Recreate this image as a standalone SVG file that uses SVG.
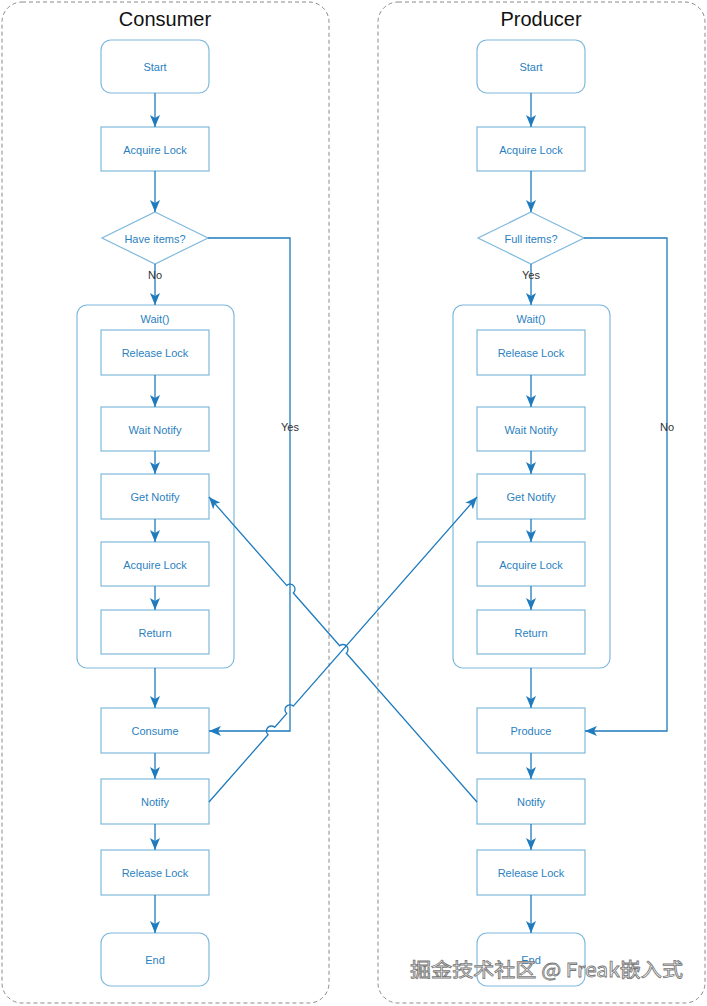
<svg xmlns="http://www.w3.org/2000/svg" width="707" height="1006" viewBox="0 0 707 1006">
<style>
.lane{fill:#fff;stroke:#8a8a8a;stroke-width:1;stroke-dasharray:4 3}
.title{font-family:"Liberation Sans",Arial,sans-serif;font-size:20px;fill:#111;text-anchor:middle}
.box{fill:#fff;stroke:#7fb9dd;stroke-width:1.2}
.grp{fill:none;stroke:#7fb9dd;stroke-width:1.2}
.t{font-family:"Liberation Sans",Arial,sans-serif;font-size:11px;fill:#2b7fc1;text-anchor:middle;dominant-baseline:central}
.lbl{font-family:"Liberation Sans",Arial,sans-serif;font-size:11px;fill:#333;text-anchor:middle;dominant-baseline:central}
.e{fill:none;stroke:#1f7bbd;stroke-width:1.3}
.ea{fill:none;stroke:#1f7bbd;stroke-width:1.3;marker-end:url(#ah)}
.wm{font-family:"Noto Sans CJK SC","Liberation Sans",sans-serif;font-size:19px;fill:#fff;stroke:#777;stroke-width:0.8}
</style>
<defs>
<marker id="ah" markerUnits="userSpaceOnUse" markerWidth="12" markerHeight="10" refX="12" refY="5" orient="auto">
<path d="M0,0 L12,5 L0,10 L3,5 z" fill="#1f7bbd"/>
</marker>
</defs>
<rect width="707" height="1006" fill="#fff"/>
<g id="consumer-lane">
<rect class="lane" x="2" y="2" width="327" height="1001" rx="20"/>
<text class="title" x="165" y="26">Consumer</text>
</g>
<g id="producer-lane">
<rect class="lane" x="378" y="2" width="327" height="1001" rx="20"/>
<text class="title" x="541" y="26">Producer</text>
</g>
<g id="c-wait"><rect class="grp" x="77" y="305" width="157" height="363" rx="10"/><text class="t" x="155" y="319">Wait()</text></g>
<g id="p-wait"><rect class="grp" x="453" y="305" width="157" height="363" rx="10"/><text class="t" x="531" y="319">Wait()</text></g>
<g id="c-start"><rect class="box" x="101" y="40" width="108" height="53" rx="10"/><text class="t" x="155" y="67">Start</text></g>
<g id="c-acq1"><rect class="box" x="101" y="127" width="108" height="44"/><text class="t" x="155" y="150">Acquire Lock</text></g>
<g id="c-have"><polygon class="box" points="155,212 208,238 155,264 102,238"/><text class="t" x="155" y="239">Have items?</text></g>
<g id="c-rel1"><rect class="box" x="101" y="330" width="108" height="45"/><text class="t" x="155" y="353">Release Lock</text></g>
<g id="c-waitn"><rect class="box" x="101" y="407" width="108" height="44"/><text class="t" x="155" y="430">Wait Notify</text></g>
<g id="c-get"><rect class="box" x="101" y="474" width="108" height="45"/><text class="t" x="155" y="497">Get Notify</text></g>
<g id="c-acq2"><rect class="box" x="101" y="542" width="108" height="44"/><text class="t" x="155" y="565">Acquire Lock</text></g>
<g id="c-ret"><rect class="box" x="101" y="610" width="108" height="44"/><text class="t" x="155" y="633">Return</text></g>
<g id="c-consume"><rect class="box" x="101" y="708" width="108" height="45"/><text class="t" x="155" y="731">Consume</text></g>
<g id="c-notify"><rect class="box" x="101" y="779" width="108" height="45"/><text class="t" x="155" y="802">Notify</text></g>
<g id="c-rel2"><rect class="box" x="101" y="850" width="108" height="45"/><text class="t" x="155" y="873">Release Lock</text></g>
<g id="c-end"><rect class="box" x="101" y="933" width="108" height="53" rx="10"/><text class="t" x="155" y="960">End</text></g>
<g id="p-start"><rect class="box" x="477" y="40" width="108" height="53" rx="10"/><text class="t" x="531" y="67">Start</text></g>
<g id="p-acq1"><rect class="box" x="477" y="127" width="108" height="44"/><text class="t" x="531" y="150">Acquire Lock</text></g>
<g id="p-full"><polygon class="box" points="531,212 584,238 531,264 478,238"/><text class="t" x="531" y="239">Full items?</text></g>
<g id="p-rel1"><rect class="box" x="477" y="330" width="108" height="45"/><text class="t" x="531" y="353">Release Lock</text></g>
<g id="p-waitn"><rect class="box" x="477" y="407" width="108" height="44"/><text class="t" x="531" y="430">Wait Notify</text></g>
<g id="p-get"><rect class="box" x="477" y="474" width="108" height="45"/><text class="t" x="531" y="497">Get Notify</text></g>
<g id="p-acq2"><rect class="box" x="477" y="542" width="108" height="44"/><text class="t" x="531" y="565">Acquire Lock</text></g>
<g id="p-ret"><rect class="box" x="477" y="610" width="108" height="44"/><text class="t" x="531" y="633">Return</text></g>
<g id="p-produce"><rect class="box" x="477" y="708" width="108" height="45"/><text class="t" x="531" y="731">Produce</text></g>
<g id="p-notify"><rect class="box" x="477" y="779" width="108" height="45"/><text class="t" x="531" y="802">Notify</text></g>
<g id="p-rel2"><rect class="box" x="477" y="850" width="108" height="45"/><text class="t" x="531" y="873">Release Lock</text></g>
<g id="p-end"><rect class="box" x="477" y="933" width="108" height="53" rx="10"/><text class="t" x="531" y="960">End</text></g>
<g id="connectors">
<path class="ea" d="M155,93 V127"/>
<path class="ea" d="M155,171 V212"/>
<path class="ea" d="M155,264 V305"/>
<path class="ea" d="M155,375 V407"/>
<path class="ea" d="M155,451 V474"/>
<path class="ea" d="M155,519 V542"/>
<path class="ea" d="M155,586 V610"/>
<path class="ea" d="M155,668 V708"/>
<path class="ea" d="M155,753 V779"/>
<path class="ea" d="M155,824 V850"/>
<path class="ea" d="M155,895 V933"/>
<path class="ea" d="M531,93 V127"/>
<path class="ea" d="M531,171 V212"/>
<path class="ea" d="M531,264 V305"/>
<path class="ea" d="M531,375 V407"/>
<path class="ea" d="M531,451 V474"/>
<path class="ea" d="M531,519 V542"/>
<path class="ea" d="M531,586 V610"/>
<path class="ea" d="M531,668 V708"/>
<path class="ea" d="M531,753 V779"/>
<path class="ea" d="M531,824 V850"/>
<path class="ea" d="M531,895 V933"/>
<path class="ea" d="M208,238 H290 V731 H209"/>
<path class="ea" d="M584,238 H667 V731 H585"/>
<path class="ea" d="M209,802 L268.09,734.76 A5,5 0 0 1 274.69,727.24 L286.70,713.58 A5,5 0 0 1 293.30,706.06 L477,497"/>
<path class="ea" d="M477,802 L346.30,653.26 A5,5 0 0 0 339.70,645.74 L293.30,592.94 A5,5 0 0 0 286.70,585.42 L209,497"/>
<text class="lbl" x="155" y="275">No</text>
<text class="lbl" x="290" y="427">Yes</text>
<text class="lbl" x="531" y="275">Yes</text>
<text class="lbl" x="667" y="427">No</text>
</g>
<text class="wm" x="410" y="977" textLength="273" lengthAdjust="spacingAndGlyphs">掘金技术社区 @ Freak嵌入式</text>
</svg>
